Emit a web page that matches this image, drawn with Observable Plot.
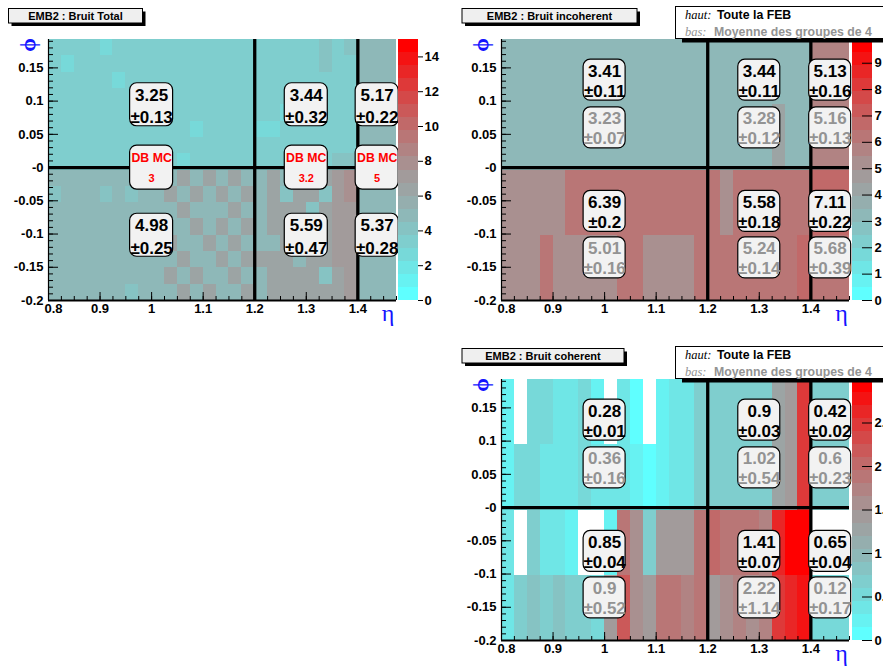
<!DOCTYPE html>
<html><head><meta charset="utf-8">
<script src="https://cdn.jsdelivr.net/npm/d3@7"></script>
<script src="https://cdn.jsdelivr.net/npm/@observablehq/plot@0.6"></script>
<style>
html,body{margin:0;padding:0;background:#fff;}
#root{position:relative;width:883px;height:667px;overflow:hidden;background:#fff;}
.slot{position:absolute;}
</style></head><body><div id="root"></div>
<script>
// ---------- grid geometry (eta x phi bins) ----------
const etaStart = 0.8, etaStep = 0.025, etaBins = 27;
const phiStart = -0.2, phiStep = Math.PI / 128, phiBins = 16;
const etaEnd = etaStart + etaBins * etaStep;
const phiEnd = phiStart + phiBins * phiStep;

// ---------- axis ticks ----------
const xTicks = [0.8, 0.9, 1.0, 1.1, 1.2, 1.3, 1.4];
const xTickLabels = ["0.8", "0.9", "1", "1.1", "1.2", "1.3", "1.4"];
const yTicks = [0.15, 0.1, 0.05, 0, -0.05, -0.1, -0.15, -0.2];
const yTickLabels = ["0.15", "0.1", "0.05", "-0", "-0.05", "-0.1", "-0.15", "-0.2"];
const regionLines = [1.2, 1.4];

// ---------- colour-bar ticks ----------
const totalMax = 15, incohMax = 9.9, cohMax = 3.0;
const totalBarTicks = [0, 2, 4, 6, 8, 10, 12, 14];
const totalBarLabels = ["0", "2", "4", "6", "8", "10", "12", "14"];
const incohBarTicks = [0, 1, 2, 3, 4, 5, 6, 7, 8, 9];
const incohBarLabels = ["0", "1", "2", "3", "4", "5", "6", "7", "8", "9"];
const cohBarTicks = [0, 0.5, 1, 1.5, 2, 2.5];
const cohBarLabels = ["0", "0.5", "1", "1.5", "2", "2.5"];

// ---------- Bruit Total: 16 phi rows (top first) x 27 eta columns ----------
const totalRows = [
 [3.2,3.2,3.2,3.2,2.6,3.2,3.2,3.2,3.2,3.2, 3.2,3.2,3.2,3.2,3.2,3.2,3.2,3.2,3.2,3.2, 3.2,4.2,3.2,4.2,5.2,5.2,5.2],
 [3.2,2.6,3.2,3.2,3.2,3.2,3.2,3.2,3.2,3.2, 3.2,3.2,3.2,3.2,3.2,3.2,3.2,3.2,3.2,3.2, 3.2,4.2,3.2,3.2,5.2,5.2,5.2],
 [3.2,3.2,3.2,3.2,3.2,2.6,3.2,3.2,3.2,3.2, 3.2,3.2,3.2,3.2,3.2,3.2,3.2,3.2,3.2,3.2, 3.2,3.2,3.2,3.2,5.2,5.2,5.2],
 [3.2,3.2,3.2,3.2,3.2,3.2,3.2,3.2,3.2,3.2, 3.2,3.2,3.2,3.2,3.2,3.2,3.2,3.2,3.2,3.2, 3.2,3.2,3.2,3.2,5.2,5.2,5.2],
 [3.2,3.2,3.2,3.2,3.2,3.2,3.2,3.2,3.2,3.2, 3.2,3.2,3.2,3.2,3.2,3.2,3.2,3.2,2.6,3.2, 3.2,3.2,3.2,3.2,5.2,5.2,5.2],
 [3.2,3.2,3.2,3.2,3.2,3.2,3.2,3.2,3.2,3.2, 3.2,2.6,3.2,3.2,3.2,3.2,2.6,2.6,3.2,3.2, 3.2,3.2,3.2,3.2,5.2,5.2,5.2],
 [3.2,3.2,3.2,3.2,3.2,3.2,3.2,3.2,3.2,3.2, 3.2,3.2,3.2,3.2,3.2,3.2,3.2,3.2,3.2,3.2, 3.2,3.2,3.2,3.2,5.2,5.2,5.2],
 [3.2,3.2,3.2,3.2,3.2,3.2,3.2,3.2,3.2,3.2, 2.6,3.2,3.2,3.2,3.2,3.2,3.2,3.2,3.2,3.2, 3.2,3.2,4.2,4.2,5.2,5.2,5.2],
 [5,5,5,5,5,5,5,5,5,5, 6,5,6,5,6,5,5,6,5,6, 6,6,6.8,7.6,5,5,5],
 [4,5,5,5,4,5,4,5,5,6, 5,6,5,6,5,6,5,6,4,6, 6,4,6.8,7.6,5,5,5],
 [5,5,5,5,5,5,5,5,5,5, 6,5,5,5,6,5,5,6,6,6, 4,6,6.8,6.8,5,5,5],
 [5,5,5,5,5,5,5,5,5,5, 5,6,5,6,5,6,5,6,6,5, 6,6,6.8,6.8,5,5,5],
 [5,5,5,5,5,5,5,5,5,6, 5,5,6,5,6,5,5,5,6,6, 6,6,6.8,6.8,5,5,5],
 [5,5,5,5,5,5,5,5,5,5, 6,5,5,6,5,6,6,6,6,5, 6,6,6.8,6.8,5,5,5],
 [5,5,5,5,5,5,5,5,5,6, 5,6,5,5,6,5,5,6,6,6, 6,4,6,6.8,5,5,5],
 [5,5,5,5,5,5,4,5,5,5, 6,5,6,5,5,6,5,6,6,6, 6,6,6,6.8,5,5,5]
];

// ---------- Bruit incoherent: 4 phi groups (top first) x 27 eta columns ----------
const incohRows = [
 [3.4,3.4,3.4,3.4,3.4,3.4,3.4,3.4,3.4,3.4, 3.4,3.4,3.4,3.4,3.4,3.4,3.4,3.4,3.4,3.4, 3.4,3.4,3.4,3.4,5.7,5.7,5.7],
 [3.4,3.4,3.4,3.4,3.4,3.4,3.4,3.4,3.4,3.4, 3.4,3.4,3.4,3.4,3.4,3.4,3.4,3.4,3.4,3.4, 3.4,4.4,3.4,3.4,5.7,5.7,5.7],
 [5.2,5.2,5.2,5.2,5.2,6.1,6.1,6.1,6.1,6.1, 6.1,6.1,6.1,6.1,6.1,6.1,6.1,5.2,6.1,6.1, 6.1,6.1,6.1,6.1,6.8,6.8,6.8],
 [5.3,5.3,5.3,6.1,5.2,5.2,5.2,5.2,5.2,6.1, 6.1,5.2,5.2,5.2,5.2,6.1,6.1,6.1,6.1,6.1, 6.1,6.1,6.1,6.8,6.4,6.4,6.4]
];

// ---------- Bruit coherent: 4 phi groups (top first) x 27 eta columns (null = empty) ----------
const cohRows = [
 [0.2,null,0.5,0.5,0.32,0.32,0.45,0.2,null,0.32, 0.12,null,0.22,0.4,0.32,0.62,0.62,0.62,0.62,0.62, 0.62,1.2,1.45,2.5,0.62,0.62,0.62],
 [0.25,0.5,0.5,0.32,0.32,0.32,0.45,0.32,0.32,0.32, 0.2,0.05,0.25,0.32,0.4,0.62,0.62,0.62,0.62,0.62, 0.62,1.2,1.45,2.5,0.62,0.62,0.62],
 [0.32,null,0.65,0.3,0.3,0.15,null,null,0.15,1.9, 1.5,0.62,1.4,1.4,1.4,1.85,1.95,1.85,1.85,1.8, 1.7,2.6,2.9,2.9,null,null,null],
 [0.32,0.62,0.75,0.62,0.75,0.62,0.62,0.55,1.4,2.1, 1.55,1.4,1.85,1.85,1.65,1.8,1.4,1.5,1.7,1.6, 1.7,2.5,2.6,2.75,0.55,0.55,0.55]
];

// ---------- region summary labels ----------
const regionEta = [1.0, 1.3, 1.4375];
const totalUpVal = ["3.25", "3.44", "5.17"], totalUpErr = ["0.13", "0.32", "0.22"];
const totalLoVal = ["4.98", "5.59", "5.37"], totalLoErr = ["0.25", "0.47", "0.28"];
const totalDbMc = ["3", "3.2", "5"];

const incohHautUpVal = ["3.41", "3.44", "5.13"], incohHautUpErr = ["0.11", "0.11", "0.16"];
const incohBasUpVal  = ["3.23", "3.28", "5.16"], incohBasUpErr  = ["0.07", "0.12", "0.13"];
const incohHautLoVal = ["6.39", "5.58", "7.11"], incohHautLoErr = ["0.2", "0.18", "0.22"];
const incohBasLoVal  = ["5.01", "5.24", "5.68"], incohBasLoErr  = ["0.16", "0.14", "0.39"];

const cohHautUpVal = ["0.28", "0.9", "0.42"], cohHautUpErr = ["0.01", "0.03", "0.02"];
const cohBasUpVal  = ["0.36", "1.02", "0.6"], cohBasUpErr  = ["0.16", "0.54", "0.23"];
const cohHautLoVal = ["0.85", "1.41", "0.65"], cohHautLoErr = ["0.04", "0.07", "0.04"];
const cohBasLoVal  = ["0.9", "2.22", "0.12"], cohBasLoErr  = ["0.52", "1.14", "0.17"];

// label anchor phi
const totalBoxPhi = [0.0945, -0.1018];
const pairBoxPhi = [0.1315, 0.0596, -0.066, -0.136];

// ---------- styling ----------
const SANS = "'Liberation Sans', Arial, Helvetica, sans-serif";
const SERIF = "'Liberation Serif', 'DejaVu Serif', 'Times New Roman', serif";
const paletteStops = ["#5fffff", "#78d7d7", "#91b4b4", "#a59696", "#be6e6e", "#dc3c3c", "#ff0000"];
const interp = d3.piecewise(d3.interpolateRgb, paletteStops);
const nLevels = 20;
const levelColors = d3.range(nLevels).map(i => interp(i / (nLevels - 1)));
function colorScale(max) {
  return {type: "threshold", domain: d3.range(1, nLevels).map(i => max * i / nLevels), range: levelColors};
}
const GRAY = "#939393";
const BOXFILL = "#f2f2f2";

function makeCells(rows) {
  const rowSpan = phiBins / rows.length;
  const cells = [];
  rows.forEach((row, r) => {
    const b = rows.length - 1 - r;
    row.forEach((v, k) => {
      if (v === null) return;
      cells.push({
        x1: etaStart + k * etaStep, x2: etaStart + (k + 1) * etaStep,
        y1: phiStart + b * rowSpan * phiStep, y2: phiStart + (b + 1) * rowSpan * phiStep, v
      });
    });
  });
  return cells;
}

function labelBoxes(entries, hw, hh, lineHeight) {
  const marks = [
    Plot.rect(entries, {x1: "eta", x2: "eta", y1: "phi", y2: "phi",
      insetLeft: -hw, insetRight: -hw, insetTop: -hh, insetBottom: -hh,
      rx: 7, ry: 7, fill: BOXFILL, stroke: "#000", strokeWidth: 1.2})
  ];
  for (const tone of ["haut", "bas"]) {
    const sub = entries.filter(d => d.tone === tone);
    if (!sub.length) continue;
    marks.push(Plot.text(sub, {x: "eta", y: "phi", text: d => d.v + "\n±" + d.e,
      lineHeight, fontSize: 17, fontWeight: "bold", fontFamily: SANS,
      fill: tone === "haut" ? "#000" : GRAY}));
  }
  return marks;
}

function heatPanel(rows, max, extraMarks) {
  const yMinor = d3.range(-20, 20).map(i => i / 100);
  const xMinor = d3.range(etaBins + 1).map(k => etaStart + k * etaStep);
  const labelStyle = {fontSize: 13, fontWeight: "bold", fontFamily: SANS, fill: "#000"};
  return Plot.plot({
    width: 440, height: 334, marginLeft: 48, marginRight: 44, marginTop: 39, marginBottom: 34,
    x: {domain: [etaStart, etaEnd], axis: null},
    y: {domain: [phiStart, phiEnd], axis: null},
    color: colorScale(max),
    style: {fontFamily: SANS, fontSize: "13px", background: "transparent", overflow: "visible"},
    marks: [
      Plot.rect(makeCells(rows), {x1: "x1", x2: "x2", y1: "y1", y2: "y2", fill: "v", shapeRendering: "crispEdges"}),
      Plot.ruleX(regionLines, {stroke: "#000", strokeWidth: 3.3}),
      Plot.ruleY([0], {stroke: "#000", strokeWidth: 3.3}),
      Plot.ruleX([etaStart], {stroke: "#000", strokeWidth: 1.2}),
      Plot.ruleY([phiStart], {stroke: "#000", strokeWidth: 2}),
      Plot.ruleY(yMinor, {y: d => d, x1: etaStart, x2: etaStart, insetRight: -5, stroke: "#000"}),
      Plot.ruleY(yTicks, {y: d => d, x1: etaStart, x2: etaStart, insetRight: -10, stroke: "#000"}),
      Plot.ruleX(xMinor, {x: d => d, y1: phiStart, y2: phiStart, insetTop: -4, stroke: "#000"}),
      Plot.ruleX(xTicks, {x: d => d, y1: phiStart, y2: phiStart, insetTop: -8, stroke: "#000"}),
      Plot.text(yTicks, {x: etaStart, y: d => d, text: (d, i) => yTickLabels[i], dx: -5, textAnchor: "end", ...labelStyle}),
      Plot.text(xTicks.slice(0, 1), {x: d => d, y: phiStart, text: (d, i) => xTickLabels[i], dx: 5, dy: 8, ...labelStyle}),
      Plot.text(xTicks.slice(1), {x: d => d, y: phiStart, text: (d, i) => xTickLabels[i + 1], dy: 8, ...labelStyle}),
      ...extraMarks
    ]
  });
}

function colorBar(max, ticks, labels, outside) {
  const levels = d3.range(nLevels);
  return Plot.plot({
    width: 80, height: 334, marginLeft: 0, marginRight: 60, marginTop: 39, marginBottom: 34,
    x: {domain: [0, 1], axis: null},
    y: {domain: [0, max], axis: null},
    color: colorScale(max),
    style: {fontFamily: SANS, fontSize: "13px", background: "transparent", overflow: "visible"},
    marks: [
      Plot.rect(levels, {x1: 0, x2: 1, y1: i => max * i / nLevels, y2: i => max * (i + 1) / nLevels,
        fill: i => max * (i + 0.5) / nLevels, shapeRendering: "crispEdges"}),
      Plot.ruleY(ticks, {y: d => d, x1: 1, x2: 1, insetLeft: outside ? 0 : -10, insetRight: outside ? -5 : 0, stroke: "#000"}),
      Plot.text(ticks, {y: d => d, x: 1, text: (d, i) => labels[i], dx: outside ? 6 : 2, textAnchor: "start",
        fontSize: 13, fontWeight: "bold", fontFamily: SANS, fill: "#000"})
    ]
  });
}

// ---------- build label entries ----------
function entries(vals, errs, phi, tone) {
  return regionEta.map((eta, i) => ({eta, phi, v: vals[i], e: errs[i], tone}));
}
const totalEntries = [
  ...entries(totalUpVal, totalUpErr, totalBoxPhi[0], "haut"),
  ...entries(totalLoVal, totalLoErr, totalBoxPhi[1], "haut")
];
const dbmcEntries = regionEta.map((eta, i) => ({eta, phi: 0, n: totalDbMc[i]}));
const incohEntries = [
  ...entries(incohHautUpVal, incohHautUpErr, pairBoxPhi[0], "haut"),
  ...entries(incohBasUpVal, incohBasUpErr, pairBoxPhi[1], "bas"),
  ...entries(incohHautLoVal, incohHautLoErr, pairBoxPhi[2], "haut"),
  ...entries(incohBasLoVal, incohBasLoErr, pairBoxPhi[3], "bas")
];
const cohEntries = [
  ...entries(cohHautUpVal, cohHautUpErr, pairBoxPhi[0], "haut"),
  ...entries(cohBasUpVal, cohBasUpErr, pairBoxPhi[1], "bas"),
  ...entries(cohHautLoVal, cohHautLoErr, pairBoxPhi[2], "haut"),
  ...entries(cohBasLoVal, cohBasLoErr, pairBoxPhi[3], "bas")
];

const dbmcMarks = [
  Plot.rect(dbmcEntries, {x1: "eta", x2: "eta", y1: "phi", y2: "phi",
    insetLeft: -21.5, insetRight: -21.5, insetTop: -22, insetBottom: -22,
    rx: 7, ry: 7, fill: BOXFILL, stroke: "#000", strokeWidth: 1.2}),
  Plot.text(dbmcEntries, {x: "eta", y: "phi", text: () => "DB MC", dy: -10, fontSize: 12.3, fontWeight: "bold", fontFamily: SANS, fill: "#ff0000"}),
  Plot.text(dbmcEntries, {x: "eta", y: "phi", text: "n", dy: 11, fontSize: 11, fontWeight: "bold", fontFamily: SANS, fill: "#ff0000"})
];

// ---------- assemble ----------
const root = document.getElementById("root");
function place(node, left, top, w, h) {
  const d = document.createElement("div");
  d.className = "slot";
  d.style.left = left + "px"; d.style.top = top + "px";
  d.style.width = w + "px"; d.style.height = h + "px";
  d.appendChild(node);
  root.appendChild(d);
}

place(heatPanel(totalRows, totalMax, [...labelBoxes(totalEntries, 21.5, 21.5, 1.32), ...dbmcMarks]), 0, 0, 440, 334);
place(colorBar(totalMax, totalBarTicks, totalBarLabels, true), 398, 0, 80, 334);
place(heatPanel(incohRows, incohMax, labelBoxes(incohEntries, 21, 20.5, 1.18)), 453, 0, 440, 334);
place(colorBar(incohMax, incohBarTicks, incohBarLabels, false), 852, 0, 80, 334);
place(heatPanel(cohRows, cohMax, labelBoxes(cohEntries, 21, 20.5, 1.18)), 453, 340, 440, 334);
place(colorBar(cohMax, cohBarTicks, cohBarLabels, false), 852, 340, 80, 334);

// ---------- overlay: titles, legends, axis titles ----------
const ov = d3.create("svg").attr("width", 883).attr("height", 667)
  .style("position", "absolute").style("left", "0px").style("top", "0px").style("pointer-events", "none");

function titleBox(x, y, w, h, label) {
  ov.append("rect").attr("x", x + 3).attr("y", y + 3).attr("width", w).attr("height", h).attr("fill", "#000");
  ov.append("rect").attr("x", x).attr("y", y).attr("width", w).attr("height", h)
    .attr("fill", "#efefef").attr("stroke", "#000").attr("stroke-width", 1);
  ov.append("text").attr("x", x + w / 2).attr("y", y + h / 2).attr("dy", "0.36em")
    .attr("text-anchor", "middle").attr("font-family", SANS).attr("font-weight", "bold")
    .attr("font-size", 11).attr("fill", "#000").text(label);
}
titleBox(8.5, 8.5, 134, 14.5, "EMB2 : Bruit Total");
titleBox(462, 8.5, 175, 14.5, "EMB2 : Bruit incoherent");
titleBox(462, 348.5, 162, 14.5, "EMB2 : Bruit coherent");

function legendBox(y) {
  ov.append("rect").attr("x", 682).attr("y", y + 32).attr("width", 240).attr("height", 4).attr("fill", "#000");
  ov.append("rect").attr("x", 675.5).attr("y", y).attr("width", 240).attr("height", 32)
    .attr("fill", "#fff").attr("stroke", "#000").attr("stroke-width", 1);
  ov.append("text").attr("x", 685).attr("y", y + 12.5).attr("font-family", SERIF).attr("font-style", "italic")
    .attr("font-size", 12.5).attr("fill", "#000").text("haut:");
  ov.append("text").attr("x", 717).attr("y", y + 12.5).attr("font-family", SANS).attr("font-weight", "bold")
    .attr("font-size", 12.3).attr("fill", "#000").text("Toute la FEB");
  ov.append("text").attr("x", 685).attr("y", y + 29.5).attr("font-family", SERIF).attr("font-style", "italic")
    .attr("font-size", 12.5).attr("fill", GRAY).text("bas:");
  ov.append("text").attr("x", 714).attr("y", y + 29.5).attr("font-family", SANS).attr("font-weight", "bold")
    .attr("font-size", 12.3).attr("fill", GRAY).text("Moyenne des groupes de 4");
}
legendBox(6.5);
legendBox(346.5);

function phiTitle(x, y) {
  ov.append("text").attr("transform", `translate(${x},${y}) rotate(-90)`).attr("text-anchor", "middle")
    .attr("dy", "0.3em").attr("font-family", SERIF).attr("font-size", 22).attr("font-weight", "bold")
    .attr("fill", "#1414ff").text("ϕ");
}
function etaTitle(x, y) {
  ov.append("text").attr("x", x).attr("y", y).attr("text-anchor", "middle")
    .attr("font-family", SERIF).attr("font-size", 24).attr("fill", "#1414ff").text("η");
}
phiTitle(28, 45); phiTitle(481.5, 45); phiTitle(481.5, 385);
etaTitle(388, 321); etaTitle(841.5, 321); etaTitle(841.5, 661);

root.appendChild(ov.node());
</script></body></html>
